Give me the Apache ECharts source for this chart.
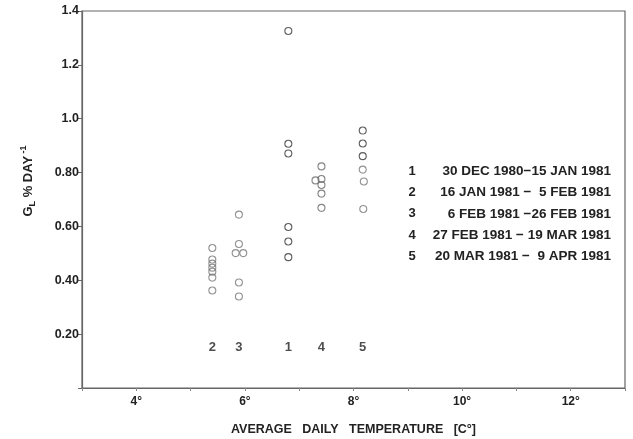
<!DOCTYPE html>
<html>
<head>
<meta charset="utf-8">
<script src="https://cdn.jsdelivr.net/npm/echarts@6/dist/echarts.min.js"></script>
<style>
html,body{margin:0;padding:0;background:#fff;}
#chart{width:633px;height:439px;}
</style>
</head>
<body>
<div id="chart"></div>
<script>
// ---- data ----
const yTickLabels = {'0.2':'0.20','0.4':'0.40','0.6':'0.60','0.8':'0.80','1':'1.0','1.2':'1.2','1.4':'1.4'};
const xTickLabels = {4:'4°',6:'6°',8:'8°',10:'10°',12:'12°'};

const group1 = [[6.80,1.326],[6.80,0.907],[6.80,0.871],[6.80,0.598],[6.80,0.544],[6.80,0.486]];
const group2 = [[5.40,0.520],[5.40,0.477],[5.40,0.462],[5.40,0.447],[5.40,0.432],[5.40,0.410],[5.40,0.362]];
const group3 = [[5.89,0.644],[5.89,0.535],[5.83,0.501],[5.97,0.501],[5.89,0.392],[5.89,0.340]];
const group4 = [[7.41,0.823],[7.30,0.771],[7.41,0.776],[7.41,0.754],[7.41,0.722],[7.41,0.669]];
const group5dark = [[8.17,0.956],[8.17,0.908],[8.17,0.861]];
const group5 = [[8.17,0.811],[8.19,0.767],[8.18,0.665]];

const groupIds = ['2','3','1','4','5'];
const groupLabelX = [5.40, 5.89, 6.80, 7.41, 8.17];
const groupLabelY = 0.15;

const legendNums = ['1','2','3','4','5'];
const legendTexts = [
  '30 DEC 1980\u221215 JAN 1981',
  '16 JAN 1981 \u2212  5 FEB 1981',
  '6 FEB 1981 \u221226 FEB 1981',
  '27 FEB 1981 \u2212 19 MAR 1981',
  '20 MAR 1981 \u2212  9 APR 1981'
];

// ---- chart ----
const FONT = '"Liberation Sans", Arial, sans-serif';
const chart = echarts.init(document.getElementById('chart'));

function scatter(data, color) {
  return {
    type: 'scatter', data: data, symbol: 'circle', symbolSize: 7,
    itemStyle: { color: 'transparent', borderColor: color, borderWidth: 1.1 },
    emphasis: { disabled: true }, silent: true
  };
}

const graphics = [];
legendNums.forEach((n, i) => {
  const y = 171 + i * 21.4;
  graphics.push({ type: 'text', x: 412, y: y, style: { text: n, font: 'bold 13px ' + FONT, fill: '#222', align: 'center', verticalAlign: 'middle' } });
  graphics.push({ type: 'text', x: 611, y: y, style: { text: legendTexts[i], font: 'bold 13.5px ' + FONT, fill: '#222', align: 'right', verticalAlign: 'middle' } });
});
// y axis title (rotated)
graphics.push({
  type: 'text', x: 28, y: 181, rotation: Math.PI / 2,
  style: {
    text: '{a|G}{sub|L}{a| % DAY}{sup| -1}',
    align: 'center', verticalAlign: 'middle',
    rich: {
      a: { font: 'bold 13px ' + FONT, fill: '#222', lineHeight: 18, verticalAlign: 'middle' },
      sub: { font: 'bold 9px ' + FONT, fill: '#222', lineHeight: 18, verticalAlign: 'bottom', padding: [7,0,0,0] },
      sup: { font: 'bold 9px ' + FONT, fill: '#222', lineHeight: 18, verticalAlign: 'top', padding: [0,0,7,0] }
    }
  }
});

chart.setOption({
  animation: false,
  backgroundColor: '#fff',
  grid: { left: 82, right: 8, top: 11, bottom: 51, outerBoundsMode: 'none', containLabel: false,
    show: true, borderColor: '#666', borderWidth: 1.2, backgroundColor: 'transparent' },
  xAxis: {
    type: 'value', min: 3, max: 13, interval: 1,
    name: 'AVERAGE   DAILY   TEMPERATURE   [C°]',
    nameLocation: 'middle', nameGap: 35,
    nameTextStyle: { fontFamily: FONT, fontSize: 12.5, fontWeight: 'bold', color: '#222' },
    axisLine: { show: true, lineStyle: { color: '#666', width: 1.2 } },
    axisTick: { show: true, length: 3, inside: false, lineStyle: { color: '#888' } },
    splitLine: { show: false },
    axisLabel: { margin: 8, fontFamily: FONT, fontSize: 12, fontWeight: 'bold', color: '#222',
      formatter: v => xTickLabels[v] || '' }
  },
  yAxis: {
    type: 'value', min: 0, max: 1.4, interval: 0.2,
    axisLine: { show: true, lineStyle: { color: '#666', width: 1.2 } },
    axisTick: { show: true, length: 4, lineStyle: { color: '#666' } },
    splitLine: { show: false },
    axisLabel: { margin: 3, fontFamily: FONT, fontSize: 12.5, fontWeight: 'bold', color: '#222',
      formatter: v => yTickLabels[String(Math.round(v * 10) / 10)] || '' }
  },
  series: [
    scatter(group1, '#333'),
    scatter(group2, '#777'),
    scatter(group3, '#777'),
    scatter(group4, '#666'),
    scatter(group5dark, '#333'),
    scatter(group5, '#777'),
    {
      type: 'scatter', symbolSize: 0, silent: true,
      data: groupIds.map((id, i) => ({ name: id, value: [groupLabelX[i], groupLabelY] })),
      label: { show: true, position: 'inside', formatter: p => p.name,
        fontFamily: FONT, fontSize: 13, fontWeight: 'bold', color: '#222' }
    }
  ],
  graphic: graphics
});
</script>
</body>
</html>
